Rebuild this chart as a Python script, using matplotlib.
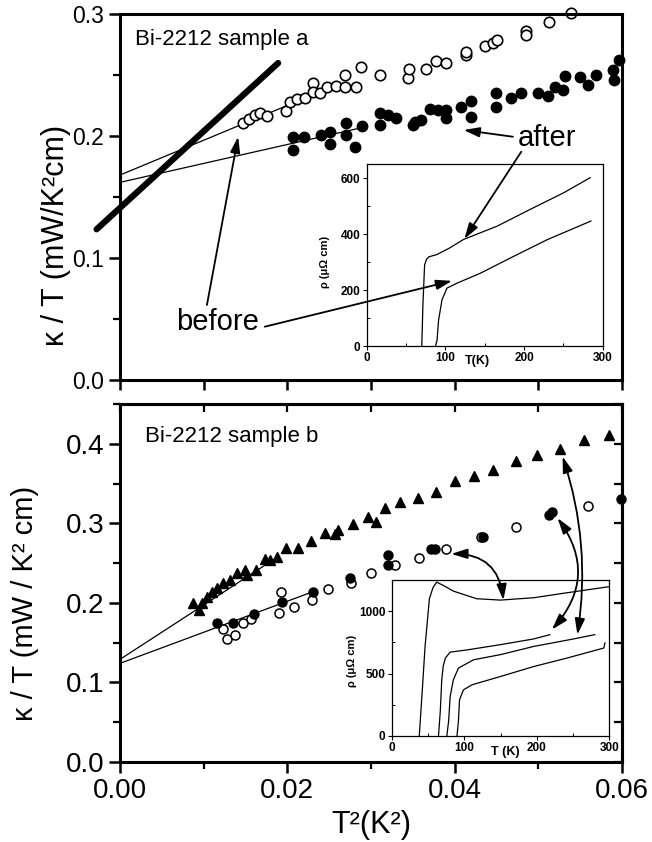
import matplotlib.pyplot as plt
from matplotlib.ticker import MultipleLocator

plt.rcParams['font.family'] = ['Liberation Sans', 'DejaVu Sans']

# ---------------- sample a (top panel) ----------------
a_before_x = [0.01465, 0.01544, 0.01612, 0.01672, 0.01752, 0.01982, 0.02030, 0.02117,
              0.02209, 0.02308, 0.02308, 0.02388, 0.02475, 0.02587, 0.02687, 0.02687,
              0.02826, 0.02886, 0.03104, 0.03442, 0.03454, 0.03654, 0.03781, 0.03893,
              0.04131, 0.04131, 0.04358, 0.04457, 0.04500, 0.04856, 0.04856, 0.05126,
              0.05393]
a_before_y = [0.2104, 0.2139, 0.2172, 0.2186, 0.2166, 0.2205, 0.2281, 0.2301,
              0.2309, 0.2432, 0.2363, 0.2355, 0.2399, 0.2410, 0.2399, 0.2500,
              0.2399, 0.2563, 0.2500, 0.2473, 0.2547, 0.2547, 0.2615, 0.2596,
              0.2664, 0.2691, 0.2738, 0.2765, 0.2790, 0.2863, 0.2828, 0.2937,
              0.3006]

a_after_x = [0.02069, 0.02069, 0.02197, 0.02408, 0.02507, 0.02507, 0.02707, 0.02707,
             0.02806, 0.02898, 0.03104, 0.03104, 0.03204, 0.03304, 0.03502, 0.03522,
             0.03602, 0.03701, 0.03801, 0.03893, 0.03893, 0.04080, 0.04199, 0.04199,
             0.04498, 0.04498, 0.04677, 0.04797, 0.04995, 0.05114, 0.05194, 0.05293,
             0.05313, 0.05493, 0.05591, 0.05692, 0.05890, 0.05899, 0.05970]
a_after_y = [0.1989, 0.1885, 0.1994, 0.2008, 0.2035, 0.1934, 0.2109, 0.2008,
             0.1912, 0.2082, 0.2186, 0.2090, 0.2172, 0.2145, 0.2090, 0.2117,
             0.2131, 0.2219, 0.2213, 0.2213, 0.2145, 0.2234, 0.2289, 0.2152,
             0.2350, 0.2240, 0.2309, 0.2350, 0.2355, 0.2328, 0.2399, 0.2377,
             0.2492, 0.2481, 0.2418, 0.2500, 0.2541, 0.2459, 0.2623]

a_before_fit_x = [0.0, 0.0255]
a_before_fit_y = [0.168, 0.2407]
a_after_fit_x = [0.0, 0.029]
a_after_fit_y = [0.162, 0.207]
a_thick_x = [-0.0028, 0.0189]
a_thick_y = [0.1235, 0.2598]

# inset a: resistivity vs T
ina_after_T = [70, 71.5, 73.6, 76, 79, 89, 105, 123, 166, 208, 251, 284]
ina_after_r = [0, 150, 290, 310, 319, 327, 350, 381, 429, 489, 549, 602]
ina_before_T = [87.5, 89.4, 91.4, 95.7, 102, 115, 145, 187, 230, 285]
ina_before_r = [0, 20, 93, 165, 207, 225, 261, 321, 381, 447]

# ---------------- sample b (bottom panel) ----------------
b_tri_x = [0.00875, 0.00947, 0.00976, 0.01035, 0.01095, 0.01155, 0.01226, 0.01313,
           0.01401, 0.01493, 0.01513, 0.01624, 0.01731, 0.01791, 0.01871, 0.01982,
           0.02129, 0.02277, 0.02448, 0.02567, 0.02607, 0.02786, 0.02965, 0.03057,
           0.03164, 0.03343, 0.03562, 0.03782, 0.03999, 0.04227, 0.04457, 0.04737,
           0.04983, 0.05262, 0.05540, 0.05843]
b_tri_y = [0.1996, 0.1912, 0.1996, 0.2072, 0.2142, 0.2185, 0.2248, 0.2289,
           0.2381, 0.2415, 0.2352, 0.2415, 0.2550, 0.2541, 0.2582, 0.2688,
           0.2688, 0.2784, 0.2877, 0.2868, 0.2918, 0.2994, 0.3078, 0.3019,
           0.3191, 0.3262, 0.3317, 0.3400, 0.3538, 0.3597, 0.3673, 0.3782,
           0.3858, 0.3933, 0.4050, 0.4113]

b_fill_x = [0.01155, 0.01353, 0.01600, 0.01931, 0.02308, 0.02746, 0.03204, 0.03204,
            0.03722, 0.03761, 0.04338, 0.05126, 0.05167, 0.05990]
b_fill_y = [0.1745, 0.1745, 0.1862, 0.2016, 0.2142, 0.2311, 0.2604, 0.2478,
            0.2675, 0.2675, 0.2834, 0.3107, 0.3148, 0.3304]

b_open_x = [0.01226, 0.01281, 0.01373, 0.01465, 0.01561, 0.01902, 0.01922, 0.02078,
            0.02289, 0.02487, 0.02755, 0.03005, 0.03284, 0.03574, 0.03901, 0.04319,
            0.04728, 0.05592]
b_open_y = [0.1669, 0.1543, 0.1597, 0.1752, 0.1795, 0.1878, 0.2142, 0.1953,
            0.2038, 0.2172, 0.2255, 0.2374, 0.2478, 0.2562, 0.2675, 0.2834,
            0.2960, 0.3220]

b_tri_fit_x = [0.0, 0.0183]
b_tri_fit_y = [0.129, 0.254]
b_circ_fit_x = [0.0, 0.0231]
b_circ_fit_y = [0.124, 0.2142]

# inset b: four resistivity curves
inb_T1 = [38, 42, 46, 52, 57, 62, 70, 85, 117, 150, 196, 242, 299]
inb_r1 = [0, 350, 718, 1100, 1190, 1233, 1210, 1161, 1100, 1089, 1108, 1148, 1196]
inb_T2 = [64.5, 67, 69, 71, 74, 80.6, 104, 150, 196, 218]
inb_r2 = [0, 200, 450, 560, 625, 672, 690, 732, 778, 812]
inb_T3 = [76, 78.5, 80.6, 85, 92, 113, 150, 196, 251, 280]
inb_r3 = [0, 120, 316, 450, 544, 611, 652, 718, 778, 812]
inb_T4 = [90, 92, 93.5, 99, 110.6, 150, 196, 242, 292.5, 294]
inb_r4 = [0, 120, 290, 370, 410, 477, 557, 625, 705, 745]

W, H = 652, 842
fig = plt.figure(figsize=(W / 100, H / 100), dpi=100)


def box(l, t, r, b):
    return [l / W, 1 - b / H, (r - l) / W, (b - t) / H]


def style_main(ax):
    for s in ax.spines.values():
        s.set_linewidth(2.2)
    ax.tick_params(which='major', direction='out', length=8, width=1.8)
    ax.tick_params(which='minor', direction='out', length=5, width=1.6)


def style_inset(ax, ymaj, ymin):
    for s in ax.spines.values():
        s.set_linewidth(0.9)
    ax.set_xlim(0, 300)
    ax.xaxis.set_major_locator(MultipleLocator(100))
    ax.xaxis.set_minor_locator(MultipleLocator(50))
    ax.yaxis.set_major_locator(MultipleLocator(ymaj))
    ax.yaxis.set_minor_locator(MultipleLocator(ymin))
    ax.tick_params(which='major', direction='out', length=3, width=0.8, pad=1.5,
                   labelsize=8.5)
    ax.tick_params(which='minor', direction='in', length=2, width=0.7)
    for lab in ax.get_xticklabels() + ax.get_yticklabels():
        lab.set_fontweight('bold')


arrow = dict(arrowstyle='-|>,head_length=0.8,head_width=0.25', color='black',
             lw=1.3, shrinkA=0, shrinkB=0, mutation_scale=12)

# ================= top panel =================
ax1 = fig.add_axes(box(120, 14, 622, 380))
style_main(ax1)
ax1.set_xlim(0, 0.06)
ax1.set_ylim(0, 0.3)
ax1.xaxis.set_major_locator(MultipleLocator(0.01))
ax1.tick_params(axis='x', labelbottom=False, length=7)
ax1.set_yticks([0, 0.1, 0.2, 0.3], ['0.0', '0.1', '0.2', '0.3'])
ax1.yaxis.set_minor_locator(MultipleLocator(0.05))
ax1.tick_params(axis='y', labelsize=16.5)

ax1.plot(a_before_fit_x, a_before_fit_y, color='black', lw=0.9)
ax1.plot(a_after_fit_x, a_after_fit_y, color='black', lw=0.9)
ax1.plot(a_thick_x, a_thick_y, color='black', lw=4.5, clip_on=False,
         solid_capstyle='round')
ax1.plot(a_before_x, a_before_y, 'o', mfc='white', mec='black', mew=1.2, ms=7.5,
         clip_on=False)
ax1.plot(a_after_x, a_after_y, 'o', color='black', ms=7.5, clip_on=False)
ax1.set_ylim(0, 0.3)

ax1.text(0.03, 0.929, 'Bi-2212 sample a', transform=ax1.transAxes, fontsize=16,
         va='center', ha='left')
ax1.text(0.0117, 0.0475, 'before', fontsize=21, ha='center', va='center')
ax1.text(0.05099, 0.1984, 'after', fontsize=21, ha='center', va='center')
ax1.annotate('', xy=(0.01412, 0.1994), xytext=(0.01039, 0.0615), arrowprops=arrow)
ax1.annotate('', xy=(0.04107, 0.2049), xytext=(0.04696, 0.1994), arrowprops=arrow)

fig.text(56 / W, 1 - 235 / H, 'κ / T (mW/K²cm)', rotation=90, fontsize=22,
         ha='center', va='center')

# inset a
axa = fig.add_axes(box(366.7, 164.3, 602.7, 346))
axa.plot(ina_after_T, ina_after_r, color='black', lw=0.9)
axa.plot(ina_before_T, ina_before_r, color='black', lw=0.9)
axa.set_ylim(0, 650)
style_inset(axa, 200, 100)
axa.text(0.47, -0.085, 'T(K)', transform=axa.transAxes, fontsize=9,
         fontweight='bold', ha='center', va='center')
fig.text(325 / W, 1 - 262 / H, 'ρ (μΩ cm)', rotation=90, fontsize=8,
         fontweight='bold', ha='center', va='center')
axa.annotate('', xy=(108.5, 233), xytext=(0.01731, 0.0437),
             textcoords=ax1.transData, arrowprops=arrow, annotation_clip=False)
axa.annotate('', xy=(124.2, 383), xytext=(0.04796, 0.1871),
             textcoords=ax1.transData, arrowprops=arrow, annotation_clip=False)

# ================= bottom panel =================
ax2 = fig.add_axes(box(120, 404, 622, 762))
style_main(ax2)
ax2.set_xlim(0, 0.06)
ax2.set_ylim(0, 0.45)
ax2.set_xticks([0, 0.02, 0.04, 0.06], ['0.00', '0.02', '0.04', '0.06'])
ax2.set_yticks([0, 0.1, 0.2, 0.3, 0.4], ['0.0', '0.1', '0.2', '0.3', '0.4'])
ax2.xaxis.set_minor_locator(MultipleLocator(0.01))
ax2.yaxis.set_minor_locator(MultipleLocator(0.05))
ax2.tick_params(labelsize=20)

top2 = ax2.secondary_xaxis('top')
top2.xaxis.set_major_locator(MultipleLocator(0.01))
top2.tick_params(direction='in', length=6, width=1.6, labeltop=False)
right2 = ax2.secondary_yaxis('right')
right2.yaxis.set_major_locator(MultipleLocator(0.05))
right2.tick_params(direction='in', length=6, width=1.6, labelright=False)
for s in list(top2.spines.values()) + list(right2.spines.values()):
    s.set_linewidth(2.2)

ax2.plot(b_tri_fit_x, b_tri_fit_y, color='black', lw=0.9)
ax2.plot(b_circ_fit_x, b_circ_fit_y, color='black', lw=0.9)
ax2.plot(b_tri_x, b_tri_y, '^', color='black', ms=7.5, clip_on=False)
ax2.plot(b_open_x, b_open_y, 'o', mfc='white', mec='black', mew=1.1, ms=6.5,
         clip_on=False)
ax2.plot(b_fill_x, b_fill_y, 'o', color='black', ms=6.5, clip_on=False)
ax2.set_xlim(0, 0.06)
ax2.set_ylim(0, 0.45)

ax2.text(0.05, 0.908, 'Bi-2212 sample b', transform=ax2.transAxes, fontsize=16,
         va='center', ha='left')
ax2.set_xlabel('T²(K²)', fontsize=22, labelpad=4)
fig.text(25 / W, 1 - 603 / H, 'κ / T (mW / K² cm)', rotation=90, fontsize=21,
         ha='center', va='center')

# inset b
axb = fig.add_axes(box(391.7, 580, 609.3, 736))
for T, r in [(inb_T1, inb_r1), (inb_T2, inb_r2), (inb_T3, inb_r3), (inb_T4, inb_r4)]:
    axb.plot(T, r, color='black', lw=0.9)
axb.set_ylim(0, 1250)
style_inset(axb, 500, 250)
axb.text(0.52, -0.10, 'T (K)', transform=axb.transAxes, fontsize=9,
         fontweight='bold', ha='center', va='center')
fig.text(352 / W, 1 - 661 / H, 'ρ (μΩ cm)', rotation=90, fontsize=8,
         fontweight='bold', ha='center', va='center')

darrow = dict(arrowstyle='<|-|>,head_length=0.8,head_width=0.25', color='black',
              lw=1.3, shrinkA=0, shrinkB=0, mutation_scale=12)
for (T, r), (x, y), rad in [((154, 1088), (0.0396, 0.2616), -0.45),
                            ((221, 853), (0.0523, 0.3066), -0.4),
                            ((256, 812), (0.0529, 0.3840), -0.12)]:
    props = dict(darrow, connectionstyle=f'arc3,rad={rad}')
    axb.annotate('', xy=(T, r), xytext=(x, y), textcoords=ax2.transData,
                 arrowprops=props, annotation_clip=False)

fig.savefig('out.png', dpi=100)
